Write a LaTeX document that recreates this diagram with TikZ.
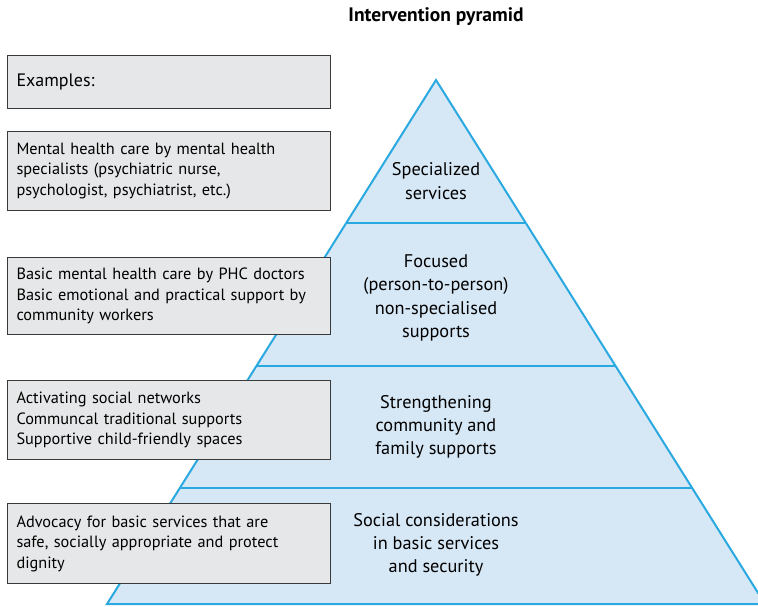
\documentclass[tikz,border=0pt]{standalone}
\usepackage{fontspec}
\setmainfont{PT Sans}
\usetikzlibrary{positioning,calc}

\definecolor{pyrfill}{HTML}{D6E7F5}
\definecolor{pyrline}{HTML}{2AA8E0}
\definecolor{boxfill}{HTML}{E6E7E8}
\definecolor{boxline}{HTML}{3A3A3A}

\tikzset{
  examplebox/.style={draw=boxline, fill=boxfill, line width=1pt, anchor=north west,
    text width=305pt, inner xsep=9pt, inner ysep=0pt, minimum height=78pt, align=left,
    font=\fontsize{16.3}{20.5}\selectfont},
  levellabel/.style={align=center, font=\fontsize{18.3}{23.3}\selectfont},
}

\begin{document}
\begin{tikzpicture}[x=1pt, y=-1pt]
\useasboundingbox (0,0) rectangle (758,606);
\clip (0,0) rectangle (758,606);

\node [font=\fontsize{19.5}{19.5}\selectfont\bfseries] (title) at (436,17) {Intervention pyramid};

% pyramid
\coordinate (apex) at (436,80);
\coordinate (bl) at (107,604);
\coordinate (br) at (765,604);
\filldraw [fill=pyrfill, draw=pyrline, line width=2pt, line join=miter] (apex) -- (br) -- (bl) -- cycle;

\coordinate (l1) at ($(apex)!0.2729!(bl)$); \coordinate (r1) at ($(apex)!0.2729!(br)$);
\coordinate (l2) at ($(apex)!0.5458!(bl)$); \coordinate (r2) at ($(apex)!0.5458!(br)$);
\coordinate (l3) at ($(apex)!0.7786!(bl)$); \coordinate (r3) at ($(apex)!0.7786!(br)$);
\draw [draw=pyrline, line width=2pt] (l1) -- (r1);
\draw [draw=pyrline, line width=2pt] (l2) -- (r2);
\draw [draw=pyrline, line width=2pt] (l3) -- (r3);

\node [levellabel] (spec) at (436,181) {Specialized\\services};
\node [levellabel] (focus) at (436,298) {Focused\\(person-to-person)\\non-specialised\\supports};
\node [levellabel] (comm) at (436,427) {Strengthening\\community and\\family supports};
\node [levellabel] (basic) at (436,545) {Social considerations\\in basic services\\and security};

% examples
\node [examplebox, minimum height=53pt, font=\fontsize{18}{20.5}\selectfont] (ex) at (7,55) {Examples:};
\node [examplebox, minimum height=79pt] (exspec) at (7,131) {Mental health care by mental health\\specialists (psychiatric nurse,\\psychologist, psychiatrist, etc.)};
\node [examplebox, minimum height=77pt] (exfocus) at (7,257) {Basic mental health care by PHC doctors\\Basic emotional and practical support by\\community workers};
\node [examplebox, minimum height=79pt] (excomm) at (7,380) {Activating social networks\\Communcal traditional supports\\Supportive child-friendly spaces};
\node [examplebox, minimum height=80pt] (exbasic) at (7,503) {Advocacy for basic services that are\\safe, socially appropriate and protect\\dignity};

\end{tikzpicture}
\end{document}
